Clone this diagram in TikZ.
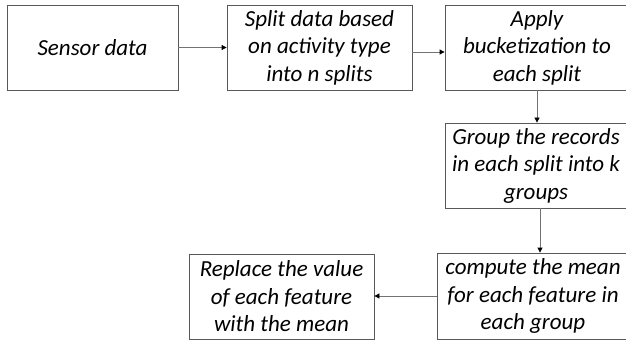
\documentclass[tikz,border=0pt]{standalone}
\usepackage{fontspec}
\setmainfont{Carlito}
\usetikzlibrary{arrows.meta,positioning}

\begin{document}
\begin{tikzpicture}[
  x=1pt, y=-1pt,
  box/.style={draw=black!65, line width=0.8pt, align=center, minimum height=85pt,
    inner sep=2pt, font=\fontsize{23}{27.5}\selectfont\itshape},
  arrow/.style={-{Triangle[length=5pt,width=5pt,black]}, draw=black!55, line width=0.8pt}
]
\useasboundingbox (0,0) rectangle (626,342);

% top row
\node[box, minimum width=171pt] (sensor) at (92.5,47.5) {Sensor data};
\node[box, minimum width=185pt] (split) at (319.5,47.5) {Split data based\\on activity type\\into n splits};
\node[box, minimum width=184pt] (bucket) at (537,47.5) {Apply\\bucketization to\\each split};

% right column
\node[box, minimum width=182pt] (group) at (536,165.5) {Group the records\\in each split into k\\groups};
\node[box, minimum width=192pt, minimum height=86pt] (mean) at (533,296) {compute the mean\\for each feature in\\each group};

% last step
\node[box, minimum width=185pt] (replace) at (281.5,296.5) {Replace the value\\of each feature\\with the mean};

\draw[arrow] (sensor) -- (split);
\draw[arrow] ([yshift=-4.5pt]split.east) -- ([yshift=-4.5pt]split.east -| bucket.west);
\draw[arrow] (bucket.south) -- (bucket.south |- group.north);
\draw[arrow] ([xshift=4pt]group.south) -- ([xshift=4pt]group.south |- mean.north);
\draw[arrow] (mean.west) -- (mean.west -| replace.east);
\end{tikzpicture}
\end{document}
